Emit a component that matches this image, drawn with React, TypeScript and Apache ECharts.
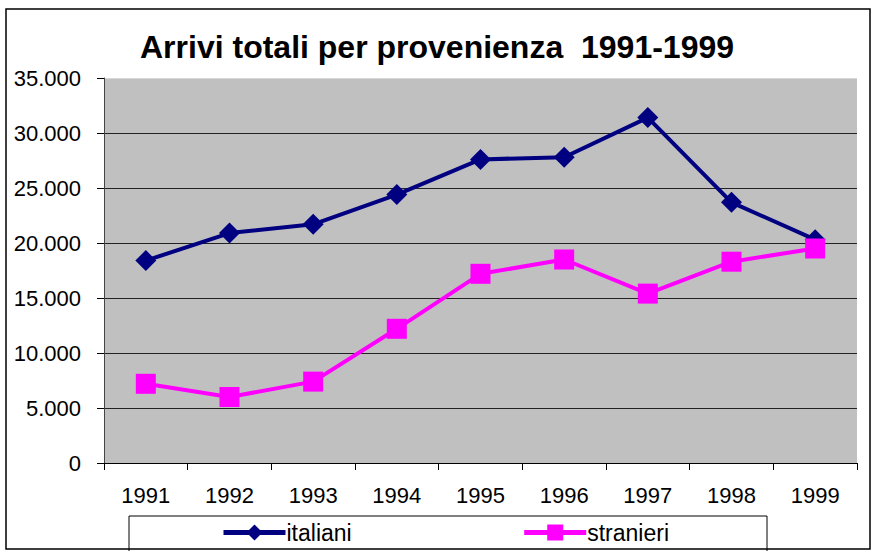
import React, { useEffect, useRef } from "react";
import * as echarts from "echarts";

const years = ["1991", "1992", "1993", "1994", "1995", "1996", "1997", "1998", "1999"];
const italiani = [18400, 20900, 21700, 24400, 27600, 27800, 31400, 23700, 20300];
const stranieri = [7200, 6000, 7400, 12200, 17200, 18500, 15400, 18300, 19500];
const titleText = "Arrivi totali per provenienza  1991-1999";
const FONT = "'Liberation Sans', Arial, Helvetica, sans-serif";

function fmt(v: number): string {
  return String(v).replace(/\B(?=(\d{3})+(?!\d))/g, ".");
}

export default function App() {
  const ref = useRef<HTMLDivElement>(null);
  useEffect(() => {
    if (!ref.current) return;
    const chart = echarts.init(ref.current, null, { renderer: "svg" });
    chart.setOption({
      animation: false,
      backgroundColor: "#ffffff",
      textStyle: { fontFamily: FONT },
      title: {
        text: titleText,
        left: "center",
        top: 26,
        textStyle: { fontFamily: FONT, fontSize: 32, fontWeight: "bold", color: "#000" },
      },
      grid: {
        left: 104,
        top: 78,
        right: 17,
        bottom: 88,
        show: true,
        backgroundColor: "#C0C0C0",
        borderWidth: 0,
      },
      legend: {
        left: 216,
        top: 516,
        itemWidth: 62,
        itemHeight: 20,
        itemGap: 170,
        lineStyle: { width: 5 },
        textStyle: { fontFamily: FONT, fontSize: 23, color: "#000", padding: [0, 0, 0, -4] },
        data: ["italiani", "stranieri"],
      },
      xAxis: {
        type: "category",
        data: years,
        boundaryGap: true,
        axisLine: { show: true, lineStyle: { color: "#000", width: 1 } },
        axisTick: { show: true, inside: false, length: 7, lineStyle: { color: "#000" } },
        axisLabel: { fontFamily: FONT, fontSize: 22, color: "#000", margin: 21 },
        splitLine: { show: false },
      },
      yAxis: {
        type: "value",
        min: 0,
        max: 35000,
        interval: 5000,
        axisLine: { show: true, lineStyle: { color: "#444", width: 1 } },
        axisTick: { show: true, inside: false, length: 7, lineStyle: { color: "#000" } },
        axisLabel: {
          fontFamily: FONT,
          fontSize: 22,
          color: "#000",
          margin: 23,
          formatter: (v: number) => fmt(v),
        },
        splitLine: {
          show: true,
          lineStyle: {
            color: ["#222", "#222", "#222", "#222", "#222", "#222", "#222", "#d8d8d8"],
            width: 1,
          },
        },
      },
      series: [
        {
          name: "italiani",
          type: "line",
          data: italiani,
          symbol: "diamond",
          symbolSize: 21,
          lineStyle: { color: "#000080", width: 4 },
          itemStyle: { color: "#000080" },
        },
        {
          name: "stranieri",
          type: "line",
          data: stranieri,
          symbol: "rect",
          symbolSize: 20,
          lineStyle: { color: "#FF00FF", width: 4 },
          itemStyle: { color: "#FF00FF" },
        },
      ],
      graphic: [
        {
          type: "rect",
          shape: { x: 6, y: 9, width: 864, height: 540 },
          style: { fill: "none", stroke: "#000", lineWidth: 1.5 },
          silent: true,
        },
        {
          type: "rect",
          shape: { x: 129, y: 516, width: 638, height: 40 },
          style: { fill: "none", stroke: "#000", lineWidth: 1 },
          silent: true,
        },
      ],
    });
    return () => chart.dispose();
  }, []);
  return (
    <div
      ref={ref}
      style={{ position: "fixed", left: 0, top: 0, width: 874, height: 551 }}
    />
  );
}
